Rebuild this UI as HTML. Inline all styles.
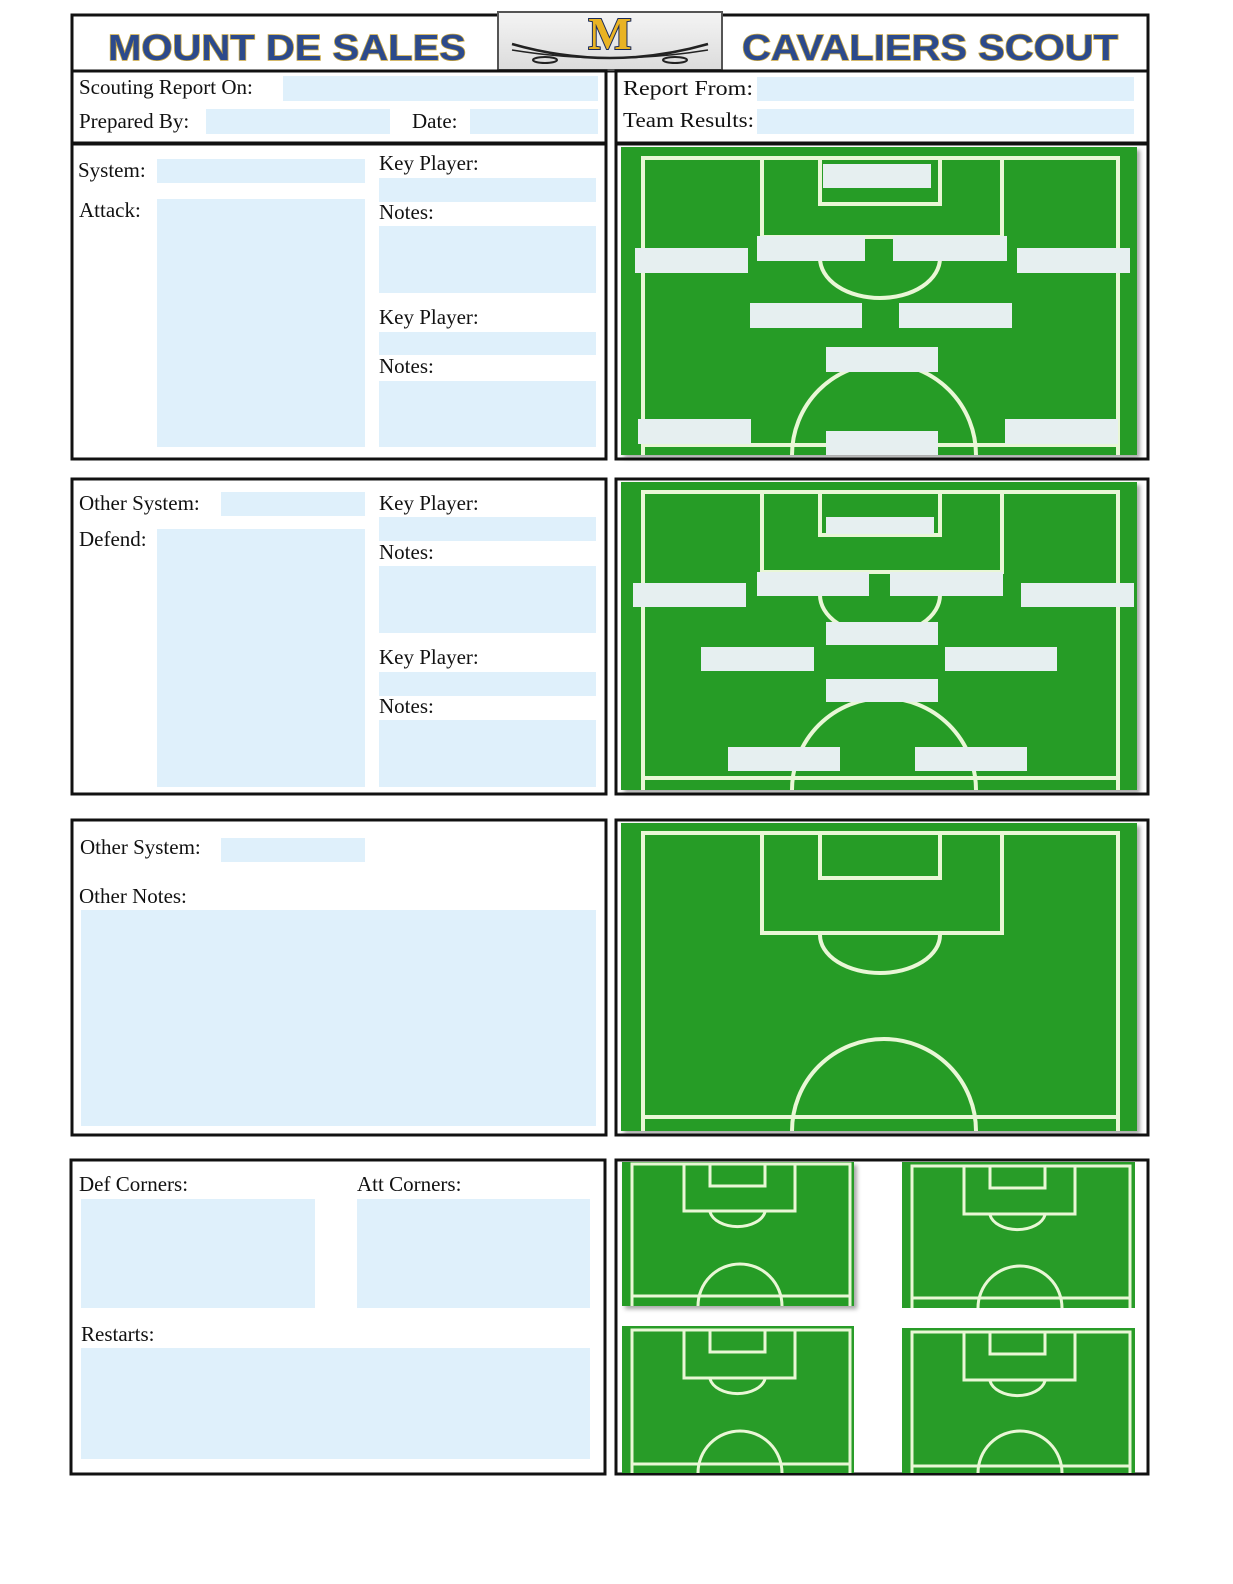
<!DOCTYPE html>
<html><head><meta charset="utf-8"><style>
html,body{margin:0;padding:0;background:#fff}
svg{display:block}
text{font-family:"Liberation Serif",serif;font-size:21px;fill:#111}
.in{fill:#dff0fb}
.pb{fill:#e6eff0}
.ln{fill:none;stroke:#e9f7d6;stroke-width:4}
.bx{fill:none;stroke:#111;stroke-width:3}
.t{font-family:"Liberation Sans",sans-serif;font-weight:bold;font-size:36px;fill:#2c4a8c;stroke:#c9a640;stroke-width:1.5;paint-order:stroke}
</style></head><body>
<svg width="1233" height="1584" viewBox="0 0 1233 1584" xmlns="http://www.w3.org/2000/svg">
<defs>
<linearGradient id="lg" x1="0" y1="0" x2="0" y2="1"><stop offset="0" stop-color="#f4f4f4"/><stop offset="1" stop-color="#dcdcdc"/></linearGradient>
<filter id="sh" x="-5%" y="-5%" width="110%" height="110%"><feDropShadow dx="3" dy="3" stdDeviation="2" flood-color="#000" flood-opacity="0.35"/></filter>
</defs>
<!-- header -->
<rect class="bx" x="72" y="15" width="1076" height="56"/>
<text class="t" x="108" y="60" textLength="358" lengthAdjust="spacingAndGlyphs">MOUNT DE SALES</text>
<text class="t" x="742" y="60" textLength="376" lengthAdjust="spacingAndGlyphs">CAVALIERS SCOUT</text>
<rect x="498" y="12" width="224" height="58" fill="url(#lg)" stroke="#555" stroke-width="2"/>
<text x="610" y="49" text-anchor="middle" style="font-family:'Liberation Serif',serif;font-weight:bold;font-size:46px;fill:#e9b324;stroke:#1a2a5a;stroke-width:2;paint-order:stroke">M</text>
<path d="M512 44 Q610 72 708 44" fill="none" stroke="#222" stroke-width="2.5"/>
<path d="M512 50 Q610 66 708 50" fill="none" stroke="#222" stroke-width="1.5"/>
<ellipse cx="545" cy="60" rx="12" ry="3" fill="none" stroke="#222" stroke-width="2"/>
<ellipse cx="675" cy="60" rx="12" ry="3" fill="none" stroke="#222" stroke-width="2"/>
<!-- info row -->
<rect class="bx" x="72" y="71" width="534" height="72"/>
<rect class="bx" x="616" y="71" width="532" height="72"/>
<text x="79" y="94">Scouting Report On:</text><rect class="in" x="283" y="76" width="315" height="25"/>
<text x="79" y="128">Prepared By:</text><rect class="in" x="206" y="109" width="184" height="25"/>
<text x="412" y="128">Date:</text><rect class="in" x="470" y="109" width="128" height="25"/>
<text x="623" y="95" textLength="130" lengthAdjust="spacingAndGlyphs">Report From:</text><rect class="in" x="757" y="77" width="377" height="24"/>
<text x="623" y="127" textLength="131" lengthAdjust="spacingAndGlyphs">Team Results:</text><rect class="in" x="757" y="109" width="377" height="25"/>
<!-- panel 1 -->
<rect class="bx" x="72" y="144" width="534" height="315"/>
<text x="78" y="177">System:</text><rect class="in" x="157" y="159" width="208" height="24"/>
<text x="79" y="217">Attack:</text><rect class="in" x="157" y="199" width="208" height="248"/>
<text x="379" y="170">Key Player:</text><rect class="in" x="379" y="178" width="217" height="24"/>
<text x="379" y="219">Notes:</text><rect class="in" x="379" y="226" width="217" height="67"/>
<text x="379" y="324">Key Player:</text><rect class="in" x="379" y="332" width="217" height="23"/>
<text x="379" y="373">Notes:</text><rect class="in" x="379" y="381" width="217" height="66"/>
<!-- panel 2 -->
<rect class="bx" x="72" y="479" width="534" height="315"/>
<text x="79" y="510">Other System:</text><rect class="in" x="221" y="492" width="144" height="24"/>
<text x="79" y="546">Defend:</text><rect class="in" x="157" y="529" width="208" height="258"/>
<text x="379" y="510">Key Player:</text><rect class="in" x="379" y="517" width="217" height="24"/>
<text x="379" y="559">Notes:</text><rect class="in" x="379" y="566" width="217" height="67"/>
<text x="379" y="664">Key Player:</text><rect class="in" x="379" y="672" width="217" height="24"/>
<text x="379" y="713">Notes:</text><rect class="in" x="379" y="720" width="217" height="67"/>
<!-- panel 3 -->
<rect class="bx" x="72" y="820" width="534" height="315"/>
<text x="80" y="854">Other System:</text><rect class="in" x="221" y="838" width="144" height="24"/>
<text x="79" y="903">Other Notes:</text><rect class="in" x="81" y="910" width="515" height="216"/>
<!-- panel 4 -->
<rect class="bx" x="71" y="1160" width="534" height="314"/>
<text x="79" y="1191">Def Corners:</text><rect class="in" x="81" y="1199" width="234" height="109"/>
<text x="357" y="1191">Att Corners:</text><rect class="in" x="357" y="1199" width="233" height="109"/>
<text x="81" y="1341">Restarts:</text><rect class="in" x="81" y="1348" width="509" height="111"/>

<!-- field 1 -->
<rect class="bx" x="616" y="144" width="532" height="315"/>
<rect x="621" y="147" width="516" height="308" fill="#289c28" filter="url(#sh)"/>
<g class="ln">
<path d="M643 455 V158 H1118 V455"/><path d="M643 445 H1118"/>
<path d="M762 158 V237 H1002 V158"/><path d="M820 158 V204 H940 V158"/>
<path d="M820 258 A60 40 0 0 0 940 258"/>
<path d="M792 455 A92 92 0 0 1 976 455"/>
</g>
<g class="pb">
<rect x="823" y="164" width="108" height="24"/>
<rect x="757" y="236" width="108" height="25"/><rect x="893" y="236" width="114" height="25"/>
<rect x="635" y="248" width="113" height="25"/><rect x="1017" y="248" width="113" height="25"/>
<rect x="750" y="303" width="112" height="25"/><rect x="899" y="303" width="113" height="25"/>
<rect x="826" y="347" width="112" height="25"/>
<rect x="638" y="419" width="113" height="25"/><rect x="1005" y="419" width="113" height="25"/>
<rect x="826" y="431" width="112" height="24"/>
</g>
<!-- field 2 -->
<rect class="bx" x="616" y="479" width="532" height="315"/>
<rect x="621" y="482" width="516" height="308" fill="#289c28" filter="url(#sh)"/>
<g class="ln">
<path d="M643 790 V492 H1118 V790"/><path d="M643 778 H1118"/>
<path d="M762 492 V572 H1002 V492"/><path d="M820 492 V535 H940 V492"/>
<path d="M820 595 A60 40 0 0 0 940 595"/>
<path d="M792 790 A92 92 0 0 1 976 790"/>
</g>
<g class="pb">
<rect x="826" y="517" width="108" height="17"/>
<rect x="757" y="572" width="112" height="24"/><rect x="890" y="572" width="113" height="24"/>
<rect x="633" y="583" width="113" height="24"/><rect x="1021" y="583" width="113" height="24"/>
<rect x="826" y="622" width="112" height="23"/>
<rect x="701" y="647" width="113" height="24"/><rect x="945" y="647" width="112" height="24"/>
<rect x="826" y="679" width="112" height="23"/>
<rect x="728" y="747" width="112" height="24"/><rect x="915" y="747" width="112" height="24"/>
</g>
<!-- field 3 -->
<rect class="bx" x="616" y="820" width="532" height="315"/>
<rect x="621" y="823" width="516" height="308" fill="#289c28" filter="url(#sh)"/>
<g class="ln">
<path d="M643 1131 V833 H1118 V1131"/><path d="M643 1117 H1118"/>
<path d="M762 833 V933 H1002 V833"/><path d="M820 833 V878 H940 V833"/>
<path d="M820 935 A60 38 0 0 0 940 935"/>
<path d="M792 1131 A92 92 0 0 1 976 1131"/>
</g>
<!-- corners panel -->
<rect class="bx" x="616" y="1160" width="532" height="314"/>
<g>
<rect x="622" y="1162" width="232" height="144" fill="#289c28" filter="url(#sh)"/>
<rect x="902" y="1162" width="233" height="146" fill="#289c28"/>
<rect x="622" y="1326" width="232" height="147" fill="#289c28"/>
<rect x="902" y="1328" width="233" height="145" fill="#289c28"/>
</g>
<g class="ln" style="stroke-width:3">
<path d="M632 1306 V1164 H850 V1306"/><path d="M632 1296 H850"/>
<path d="M684 1164 V1211 H795 V1164"/><path d="M710 1164 V1186 H765 V1164"/>
<path d="M710 1212 A28 18 0 0 0 765 1212"/><path d="M698 1306 A42 42 0 0 1 782 1306"/>

<path d="M912 1308 V1166 H1130 V1308"/><path d="M912 1298 H1130"/>
<path d="M964 1166 V1214 H1075 V1166"/><path d="M990 1166 V1188 H1045 V1166"/>
<path d="M990 1215 A28 18 0 0 0 1045 1215"/><path d="M978 1308 A42 42 0 0 1 1062 1308"/>

<path d="M632 1473 V1330 H850 V1473"/><path d="M632 1464 H850"/>
<path d="M684 1330 V1378 H795 V1330"/><path d="M710 1330 V1352 H765 V1330"/>
<path d="M710 1379 A28 18 0 0 0 765 1379"/><path d="M698 1473 A42 42 0 0 1 782 1473"/>

<path d="M912 1473 V1332 H1130 V1473"/><path d="M912 1466 H1130"/>
<path d="M964 1332 V1380 H1075 V1332"/><path d="M990 1332 V1354 H1045 V1332"/>
<path d="M990 1381 A28 18 0 0 0 1045 1381"/><path d="M978 1473 A42 42 0 0 1 1062 1473"/>
</g>
</svg>
</body></html>
